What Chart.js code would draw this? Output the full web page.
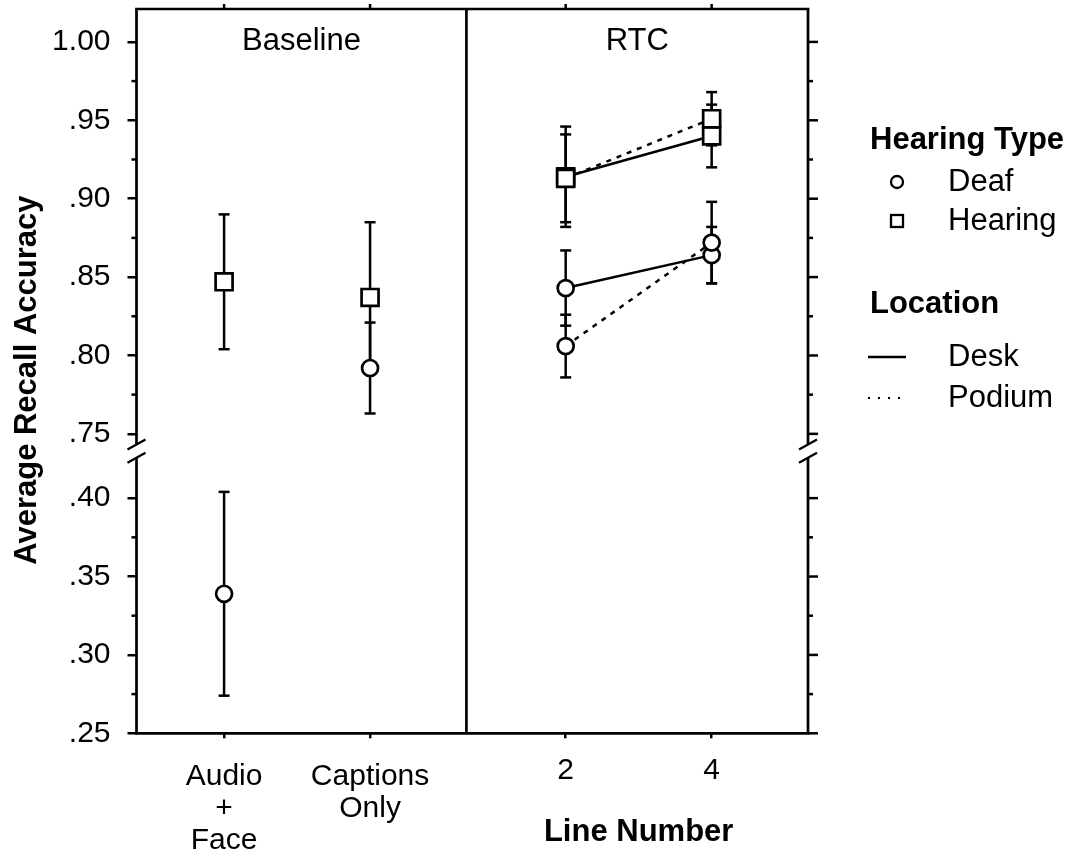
<!DOCTYPE html>
<html>
<head>
<meta charset="utf-8">
<script src="https://cdn.jsdelivr.net/npm/chart.js@4.4.1/dist/chart.umd.min.js"></script>
<style>
  html, body { margin: 0; padding: 0; background: #fff; }
  #wrap { width: 1081px; height: 854px; position: relative; }
</style>
</head>
<body>
<div id="wrap"><canvas id="recallChart"></canvas></div>
<script>
// Conditions along the x axis
const baselineConditions = [['Audio', '+', 'Face'], ['Captions', 'Only']];
const lineNumbers = ['2', '4'];

// Baseline means and error half-widths (Audio + Face, Captions Only)
const baselineDeaf = [0.339, 0.792];
const baselineDeafErr = [0.065, 0.029];
const baselineHearing = [0.847, 0.837];
const baselineHearingErr = [0.043, 0.048];

// RTC means by line number (2, 4)
const deafDesk = [0.843, 0.864];
const deafDeskErr = [0.024, 0.018];
const deafPodium = [0.806, 0.872];
const deafPodiumErr = [0.020, 0.026];
const hearingDesk = [0.914, 0.940];
const hearingDeskErr = [0.032, 0.020];
const hearingPodium = [0.913, 0.951];
const hearingPodiumErr = [0.028, 0.017];

// Tick values either side of the axis break
const upperTicks = [0.75, 0.80, 0.85, 0.90, 0.95, 1.00];
const lowerTicks = [0.25, 0.30, 0.35, 0.40];
const upperMinor = [0.775, 0.825, 0.875, 0.925, 0.975];
const lowerMinor = [0.275, 0.325, 0.375];

// Layout of the linear x scale and the broken y range
const baselineSlots = [0, 1];
const rtcSlots = [2.34, 3.34];
const panelSplit = 1.66;
const xMin = -0.6, xMax = 4.0;
const upperMin = 0.739, upperMax = 1.021;
const lowerMin = 0.25, lowerMax = 0.430;
const breakValue = 0.5;

const FONT = "'Liberation Sans', Arial, sans-serif";
const allSlots = [...baselineSlots, ...rtcSlots];
const allLabels = [...baselineConditions, ...lineNumbers];

function tickText(v) {
    const s = v.toFixed(2);
    return v >= 1 ? s : s.slice(1);
}

function makePoints(slots, means, errs, lower) {
    return means
        .map((m, i) => ({ x: slots[i], y: m, err: errs[i] }))
        .filter(p => (p.y < breakValue) === lower);
}

function marker(style) {
    return style === 'rect'
        ? { pointStyle: 'rect', pointRadius: 12, pointHoverRadius: 12 }
        : { pointStyle: 'circle', pointRadius: 8, pointHoverRadius: 8 };
}

function dataset(label, points, style, axis, dashed, showLine) {
    return {
        label: label,
        data: points,
        yAxisID: axis,
        showLine: showLine,
        borderColor: '#000',
        borderWidth: 2.5,
        borderDash: dashed ? [5, 6] : [],
        pointBackgroundColor: '#fff',
        pointBorderColor: '#000',
        pointBorderWidth: 2.7,
        ...marker(style)
    };
}

// Lower index draws on top, so podium comes before desk
const datasets = [
    dataset('Hearing Podium', makePoints(rtcSlots, hearingPodium, hearingPodiumErr, false), 'rect', 'yUpper', true, true),
    dataset('Hearing Desk', makePoints(rtcSlots, hearingDesk, hearingDeskErr, false), 'rect', 'yUpper', false, true),
    dataset('Deaf Podium', makePoints(rtcSlots, deafPodium, deafPodiumErr, false), 'circle', 'yUpper', true, true),
    dataset('Deaf Desk', makePoints(rtcSlots, deafDesk, deafDeskErr, false), 'circle', 'yUpper', false, true),
    dataset('Deaf Baseline', makePoints(baselineSlots, baselineDeaf, baselineDeafErr, false), 'circle', 'yUpper', false, false),
    dataset('Deaf Baseline (low)', makePoints(baselineSlots, baselineDeaf, baselineDeafErr, true), 'circle', 'yLower', false, false),
    dataset('Hearing Baseline', makePoints(baselineSlots, baselineHearing, baselineHearingErr, false), 'rect', 'yUpper', false, false)
];

function line(ctx, x1, y1, x2, y2) {
    ctx.beginPath();
    ctx.moveTo(x1, y1);
    ctx.lineTo(x2, y2);
    ctx.stroke();
}

// Error bars sit under the markers
const errorBars = {
    id: 'errorBars',
    beforeDatasetsDraw(chart) {
        const ctx = chart.ctx;
        const xs = chart.scales.x;
        ctx.save();
        ctx.strokeStyle = '#000';
        ctx.lineWidth = 2.5;
        chart.data.datasets.forEach(ds => {
            const ys = chart.scales[ds.yAxisID];
            ds.data.forEach(p => {
                const x = xs.getPixelForValue(p.x);
                const yTop = ys.getPixelForValue(p.y + p.err);
                const yBot = ys.getPixelForValue(p.y - p.err);
                line(ctx, x, yTop, x, yBot);
                line(ctx, x - 5.5, yTop, x + 5.5, yTop);
                line(ctx, x - 5.5, yBot, x + 5.5, yBot);
            });
        });
        ctx.restore();
    }
};

// Frame, axis break, divider, mirrored ticks, titles and legend
const decorations = {
    id: 'decorations',
    afterDraw(chart) {
        const { ctx, chartArea: a, scales } = chart;
        const up = scales.yUpper, lo = scales.yLower, xs = scales.x;
        const seam = up.bottom;
        const gap = 6.7;
        ctx.save();
        ctx.strokeStyle = '#000';
        ctx.fillStyle = '#000';
        ctx.lineWidth = 2.7;

        line(ctx, a.left - 1.35, a.top, a.right + 1.35, a.top);
        line(ctx, a.left - 1.35, a.bottom, a.right + 1.35, a.bottom);
        [a.left, a.right].forEach(sx => {
            line(ctx, sx, a.top, sx, seam - gap);
            line(ctx, sx, seam + gap, sx, a.bottom);
        });
        const divX = xs.getPixelForValue(panelSplit);
        line(ctx, divX, a.top, divX, a.bottom);

        // break marks
        ctx.lineWidth = 2.3;
        [a.left, a.right].forEach(sx => {
            [-gap, gap].forEach(d => {
                line(ctx, sx - 9, seam + d + 5, sx + 9, seam + d - 5);
            });
        });

        // minor ticks on the left, all ticks mirrored on the right
        ctx.lineWidth = 2.5;
        [[up, upperTicks, upperMinor], [lo, lowerTicks, lowerMinor]].forEach(([s, major, minor]) => {
            major.forEach(v => {
                const y = s.getPixelForValue(v);
                line(ctx, a.right, y, a.right + 10, y);
            });
            minor.forEach(v => {
                const y = s.getPixelForValue(v);
                line(ctx, a.left - 5, y, a.left, y);
                line(ctx, a.right, y, a.right + 5, y);
            });
        });
        allSlots.forEach(v => {
            const x = xs.getPixelForValue(v);
            line(ctx, x, a.top - 5, x, a.top);
        });

        // panel titles
        ctx.font = '31px ' + FONT;
        ctx.textAlign = 'center';
        ctx.textBaseline = 'middle';
        const titleY = up.getPixelForValue(1.00);
        ctx.fillText('Baseline', (a.left + divX) / 2, titleY);
        ctx.fillText('RTC', (divX + a.right) / 2, titleY);

        // axis titles
        ctx.font = 'bold 31px ' + FONT;
        const rtcMid = (xs.getPixelForValue(rtcSlots[0]) + xs.getPixelForValue(rtcSlots[1])) / 2;
        ctx.fillText('Line Number', rtcMid, 832);
        ctx.save();
        ctx.translate(27, (a.top + a.bottom) / 2 + 9);
        ctx.rotate(-Math.PI / 2);
        ctx.fillText('Average Recall Accuracy', 0, 0);
        ctx.restore();

        // legend
        const lx = 870, mx = 897, tx = 948;
        ctx.textAlign = 'left';
        ctx.font = 'bold 31px ' + FONT;
        ctx.fillText('Hearing Type', lx, 140);
        ctx.fillText('Location', lx, 304);
        ctx.font = '31px ' + FONT;
        ctx.fillText('Deaf', tx, 182);
        ctx.fillText('Hearing', tx, 221);
        ctx.fillText('Desk', tx, 357);
        ctx.fillText('Podium', tx, 398);
        ctx.lineWidth = 2.3;
        ctx.beginPath();
        ctx.arc(mx, 182, 6, 0, Math.PI * 2);
        ctx.stroke();
        ctx.strokeRect(mx - 6, 221 - 6, 12, 12);
        line(ctx, 868, 357, 906, 357);
        ctx.lineWidth = 1.8;
        ctx.setLineDash([2, 8]);
        line(ctx, 868, 398, 906, 398);
        ctx.setLineDash([]);
        ctx.restore();
    }
};

function yAxis(min, max, ticks, weight) {
    return {
        type: 'linear',
        position: 'left',
        stack: 'y',
        stackWeight: max - min,
        weight: weight,
        min: min,
        max: max,
        afterBuildTicks: scale => { scale.ticks = ticks.map(v => ({ value: v })); },
        afterFit: scale => {
            scale.width = 136.5;
            scale.paddingTop = 0;
            scale.paddingBottom = 0;
        },
        border: { display: false },
        grid: {
            drawOnChartArea: false,
            drawTicks: true,
            tickLength: 9,
            lineWidth: 2.5,
            color: '#000'
        },
        ticks: {
            padding: 17,
            color: '#000',
            font: { family: FONT, size: 30 },
            callback: v => tickText(v)
        }
    };
}

new Chart(document.getElementById('recallChart'), {
    type: 'line',
    data: { datasets: datasets },
    plugins: [errorBars, decorations],
    options: {
        responsive: true,
        maintainAspectRatio: false,
        animation: false,
        layout: {
            autoPadding: false,
            padding: { top: 9, right: 273, left: 0, bottom: 0 }
        },
        plugins: {
            legend: { display: false },
            tooltip: { enabled: false }
        },
        scales: {
            x: {
                type: 'linear',
                min: xMin,
                max: xMax,
                afterBuildTicks: scale => { scale.ticks = allSlots.map(v => ({ value: v })); },
                afterFit: scale => {
                    scale.height = 854 - 733.3;
                    scale.paddingLeft = 0;
                    scale.paddingRight = 0;
                },
                border: { display: false },
                grid: {
                    drawOnChartArea: false,
                    drawTicks: true,
                    tickLength: 5,
                    lineWidth: 2.5,
                    color: '#000'
                },
                ticks: {
                    autoSkip: false,
                    maxRotation: 0,
                    padding: 22.7,
                    color: '#000',
                    font: ctx => ({
                        family: FONT,
                        size: 30,
                        lineHeight: ctx.index < baselineSlots.length ? '32px' : '20px'
                    }),
                    callback: (v, i) => allLabels[i]
                }
            },
            yLower: yAxis(lowerMin, lowerMax, lowerTicks, 1),
            yUpper: yAxis(upperMin, upperMax, upperTicks, 2)
        }
    }
});
</script>
</body>
</html>
